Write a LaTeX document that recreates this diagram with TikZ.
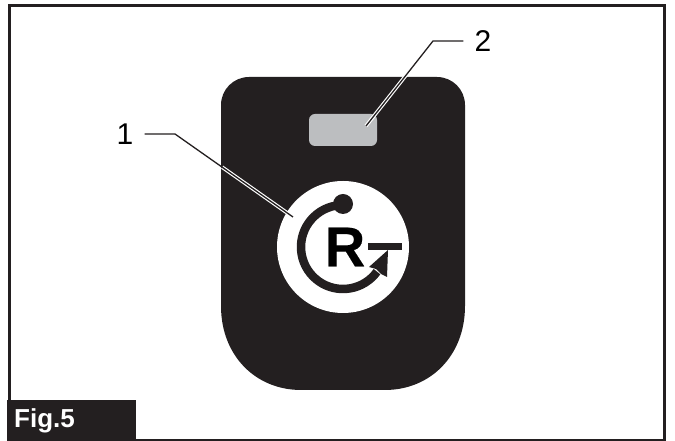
\documentclass[tikz,border=0pt]{standalone}
\usepackage{fontspec}
\setmainfont{Liberation Sans}
\newfontfamily\heavyfont[FakeBold=0.3]{Liberation Sans Bold}
\usetikzlibrary{arrows.meta,calc}
\definecolor{cbody}{HTML}{231F20}
\definecolor{cwin}{HTML}{BCBEC0}

\begin{document}
\begin{tikzpicture}[x=1pt, y=1pt, >=Latex,
                    callout/.style={font=\fontsize{30}{30}\selectfont, inner sep=0pt},
                    leader/.style={line width=1.3pt, cbody},
                    halo/.style={line width=3.6pt, white}]
  \useasboundingbox (0,0) rectangle (675,441);
  \def\cx{343}     % centre of the round button
  \def\cy{194}
  \def\rr{42}      % radius of the ring
  % frame
  \draw[cbody, line width=3pt] (9,30) -- (9,435.5) -- (664,435.5) -- (664,1.3);
  \draw[cbody, line width=2pt] (665.5,1.3) -- (9,1.3);
  % body
  \fill[cbody] (221,336) arc (180:90:28) -- (437,364) arc (90:0:28) -- (465,135)
    .. controls (465,85) and (430,51) .. (385,51) -- (301,51)
    .. controls (256,51) and (221,85) .. (221,135) -- cycle;
  % display window
  \fill[cwin, rounded corners=6pt] (309,295) rectangle (377,327);
  % button
  \fill[white] (\cx,\cy) circle (66);
  \draw[cbody, line width=8.5pt] (\cx,\cy) ++(100:\rr) arc (100:324:\rr);
  \fill[cbody] (343,237) circle (10);
  \fill[cbody] (388,191) -- (369,174) -- (376,172) -- (381,167) -- (387,164) -- cycle;
  \fill[cbody] (368,191) rectangle (402,198);
  \node[inner sep=0pt, font=\fontsize{56}{56}\heavyfont] (letter) at (345,194) {R};
  % call-outs
  \node[callout] (one) at (125,307) {1};
  \node[callout] (two) at (483,400) {2};
  \coordinate (endone) at (293,224);
  \coordinate (endtwo) at (366,315);
  \coordinate (kneeone) at (175,307);
  \coordinate (kneetwo) at (433,400);
  \draw[halo] ($(kneeone)!0.4!(endone)$) -- (endone);
  \draw[halo] ($(kneetwo)!0.4!(endtwo)$) -- (endtwo);
  \draw[leader] (one.east) ++(11,0) -- (kneeone) -- (endone);
  \draw[leader] (two.west) ++(-11,0) -- (kneetwo) -- (endtwo);
  % tag
  \fill[cbody] (7,0) rectangle (136,41);
  \node[white, anchor=west, inner sep=0pt, font=\fontsize{26}{26}\selectfont\bfseries] (tag) at (14,20) {Fig.5};
\end{tikzpicture}
\end{document}
